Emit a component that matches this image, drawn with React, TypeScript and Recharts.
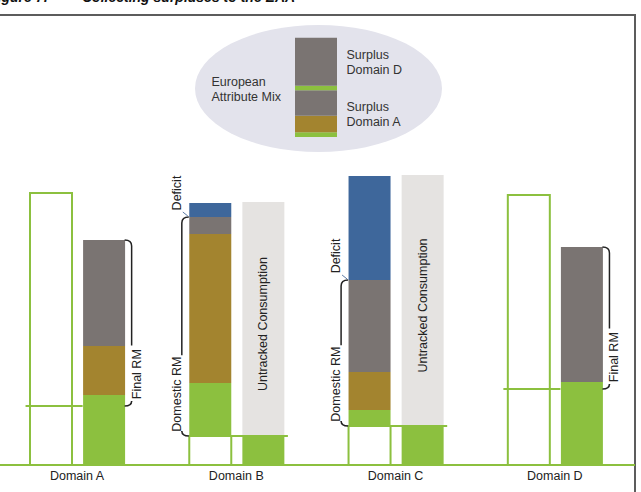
import { BarChart, Bar, XAxis, YAxis, ReferenceLine, LabelList } from "recharts";

// slots along the x axis; the "gap" slots keep the domains apart
const slots = [
  "A-claim", "A-final", "gap-1",
  "B-final", "B-untracked", "gap-2",
  "C-final", "C-untracked", "gap-3",
  "D-claim", "D-final",
];
const claimOutline = [272, 0, 0, 29, 0, 0, 39, 0, 0, 270, 0];
const renewableGreen = [0, 70, 0, 53, 29, 0, 16, 39, 0, 0, 83];
const brownShare = [0, 49, 0, 149, 0, 0, 38, 0, 0, 0, 0];
const grayShare = [0, 106, 0, 17, 0, 0, 92, 0, 0, 0, 135];
const deficitShare = [0, 0, 0, 14, 0, 0, 104, 0, 0, 0, 0];
const untrackedShare = [0, 0, 0, 0, 234, 0, 0, 251, 0, 0, 0];

const domainNames: Record<string, string> = {
  "A-claim": "Domain A",
  "B-final": "Domain B",
  "C-final": "Domain C",
  "D-claim": "Domain D",
};

// level marker per domain (also the foot of the RM bracket)
const levelPairs = [
  ["A-claim", "A-final"],
  ["B-final", "B-untracked"],
  ["C-final", "C-untracked"],
  ["D-claim", "D-final"],
];
const rmLevels = [59, 29, 39, 76];
const rmSlots = ["A-final", "B-final", "C-final", "D-final"];
const rmLabels = ["Final RM", "Domestic RM", "Domestic RM", "Final RM"];

// European Attribute Mix (bottom to top)
const mixKeys = ["greenA", "brownA", "grayA", "greenD", "grayD"];
const mixValues = [4.7, 16.6, 25.4, 4.6, 48];

const GREEN = "#8cc03f";
const BROWN = "#a3842f";
const GRAY = "#7a7472";
const BLUE = "#3e679b";
const UNTRACKED = "#e5e3e1";
const INK = "#222";
const FONT = '"Liberation Sans", Arial, sans-serif';
const LABEL_SIZE = 12.5;

const data = slots.map((slot, i) => ({
  slot,
  claim: claimOutline[i],
  green: renewableGreen[i],
  brown: brownShare[i],
  gray: grayShare[i],
  deficit: deficitShare[i],
  untracked: untrackedShare[i],
}));

const mixRow: Record<string, number | string> = { name: "EAA" };
mixKeys.forEach((k, i) => (mixRow[k] = mixValues[i]));
const mixData = [mixRow];
const mixColors = [GREEN, BROWN, GRAY, GREEN, GRAY];

function DomainTick(props: any) {
  const { x, y, payload } = props;
  const label = domainNames[payload.value];
  if (!label) return null;
  return (
    <text x={x + 26.5} y={y} dy={7} textAnchor="middle" fontSize={LABEL_SIZE} fill={INK} fontFamily={FONT}>
      {label}
    </text>
  );
}

function LevelShape(props: any) {
  const { x1, y1, x2, fromClaim } = props;
  const a = fromClaim ? x1 - 25 : x1 + 21;
  const b = fromClaim ? x2 - 21 : x2 + 25;
  return <line x1={a} y1={y1} x2={b} y2={y1} stroke={GREEN} strokeWidth={2} />;
}

function BracketShape(props: any) {
  const { x1, y1, y2, side, label, deficit } = props;
  const dir = side === "right" ? 1 : -1;
  const xe = x1 + dir * 21;
  const xl = x1 + dir * 28;
  const yB = Math.max(y1, y2);
  const yT = Math.min(y1, y2);
  const half = label.length * 3.35;
  const cy = yB - 5 - half;
  const tx = xl + dir * 5;
  const d =
    `M${xe} ${yT} Q${xl} ${yT} ${xl} ${yT + 6} L${xl} ${cy - half - 2} ` +
    `M${xl} ${cy + half + 1} L${xl} ${yB - 5} Q${xl} ${yB} ${xe} ${yB}`;
  return (
    <g>
      <path d={d} fill="none" stroke={INK} strokeWidth={1.5} />
      <text
        x={tx}
        y={cy}
        transform={`rotate(-90 ${tx} ${cy})`}
        textAnchor="middle"
        dominantBaseline="central"
        fontSize={LABEL_SIZE}
        fill={INK}
        fontFamily={FONT}
      >
        {label}
      </text>
      {deficit && (
        <>
          <text
            x={tx}
            y={yT - 24}
            transform={`rotate(-90 ${tx} ${yT - 24})`}
            textAnchor="middle"
            dominantBaseline="central"
            fontSize={LABEL_SIZE}
            fill={INK}
            fontFamily={FONT}
          >
            Deficit
          </text>
          <line x1={xl + 1} y1={yT - 5} x2={xe - 1} y2={yT - 1} stroke="#5a7aa5" strokeWidth={1} />
        </>
      )}
    </g>
  );
}

function UntrackedLabel(props: any) {
  const vb = props.viewBox ?? props;
  const x = Number(vb.x), y = Number(vb.y), w = Number(vb.width), h = Number(vb.height);
  if (!props.value || !h) return null;
  const cx = x + w / 2;
  const cy = y + h / 2 + 5;
  return (
    <text
      x={cx}
      y={cy}
      transform={`rotate(-90 ${cx} ${cy})`}
      textAnchor="middle"
      dominantBaseline="central"
      fontSize={LABEL_SIZE}
      fill={INK}
      fontFamily={FONT}
    >
      Untracked Consumption
    </text>
  );
}

export default function App() {
  return (
    <div
      style={{
        position: "absolute",
        left: 0,
        top: 0,
        width: 641,
        height: 492,
        overflow: "hidden",
        background: "#fff",
        fontFamily: FONT,
      }}
    >
      <svg width={641} height={20} style={{ position: "absolute", left: 0, top: 0 }}>
        <text x={-11} y={2} fontSize={14} fontWeight="bold" fontStyle="italic" fill="#111" fontFamily={FONT}>
          Figure 7:
        </text>
        <text x={82} y={2} fontSize={14} fontWeight="bold" fontStyle="italic" fill="#111" fontFamily={FONT}>
          Collecting surpluses to the EAA
        </text>
      </svg>
      <div
        style={{
          position: "absolute",
          left: -4,
          top: 14,
          width: 640,
          height: 500,
          borderTop: "2px solid #5c5c5c",
          borderRight: "2px solid #5c5c5c",
          boxSizing: "border-box",
        }}
      />

      <div style={{ position: "absolute", left: 0, top: 0 }}>
        <BarChart
          width={641}
          height={492}
          data={data}
          margin={{ top: 165, right: 6, bottom: 0, left: 0 }}
          barCategoryGap={0}
        >
          <XAxis
            dataKey="slot"
            height={27}
            interval={0}
            tickLine={false}
            axisLine={{ stroke: GREEN, strokeWidth: 2 }}
            tick={<DomainTick />}
            padding={{ left: 24, right: 27 }}
          />
          <YAxis hide domain={[0, 300]} />
          <Bar dataKey="claim" stackId="s" barSize={42} fill="#fff" stroke={GREEN} strokeWidth={2} isAnimationActive={false} />
          <Bar dataKey="green" stackId="s" barSize={42} fill={GREEN} isAnimationActive={false} />
          <Bar dataKey="brown" stackId="s" barSize={42} fill={BROWN} isAnimationActive={false} />
          <Bar dataKey="gray" stackId="s" barSize={42} fill={GRAY} isAnimationActive={false} />
          <Bar dataKey="deficit" stackId="s" barSize={42} fill={BLUE} isAnimationActive={false} />
          <Bar dataKey="untracked" stackId="s" barSize={42} fill={UNTRACKED} isAnimationActive={false}>
            <LabelList dataKey="untracked" content={<UntrackedLabel />} />
          </Bar>
          {levelPairs.map(([from, to], i) => (
            <ReferenceLine
              key={`lvl-${from}`}
              segment={[
                { x: from, y: rmLevels[i] },
                { x: to, y: rmLevels[i] },
              ]}
              ifOverflow="visible"
              shape={<LevelShape fromClaim={from.endsWith("claim")} />}
            />
          ))}
          {rmSlots.map((slot, i) => {
            const row = data[slots.indexOf(slot)];
            const top = row.claim + row.green + row.brown + row.gray;
            const hasDeficit = row.deficit > 0;
            return (
              <ReferenceLine
                key={`rm-${slot}`}
                segment={[
                  { x: slot, y: rmLevels[i] },
                  { x: slot, y: top },
                ]}
                ifOverflow="visible"
                shape={
                  <BracketShape side={hasDeficit ? "left" : "right"} label={rmLabels[i]} deficit={hasDeficit} />
                }
              />
            );
          })}
        </BarChart>
      </div>

      <svg width={641} height={170} style={{ position: "absolute", left: 0, top: 0 }}>
        <ellipse cx={318.5} cy={88.5} rx={123.5} ry={63.5} fill="#e3e3ec" />
        <g fontSize={12.5} fill="#333" fontFamily={FONT}>
          <text x={211.5} y={86}>European</text>
          <text x={211.5} y={101}>Attribute Mix</text>
          <text x={346.5} y={58.5}>Surplus</text>
          <text x={346.5} y={73.5}>Domain D</text>
          <text x={346.5} y={110.5}>Surplus</text>
          <text x={346.5} y={125.5}>Domain A</text>
        </g>
      </svg>

      <div style={{ position: "absolute", left: 295, top: 37 }}>
        <BarChart width={42} height={100} data={mixData} margin={{ top: 0, right: 0, bottom: 0, left: 0 }} barCategoryGap={0}>
          <XAxis dataKey="name" hide />
          <YAxis hide domain={[0, 100]} />
          {mixKeys.map((k, i) => (
            <Bar key={k} dataKey={k} stackId="m" fill={mixColors[i]} isAnimationActive={false} />
          ))}
        </BarChart>
      </div>
    </div>
  );
}
